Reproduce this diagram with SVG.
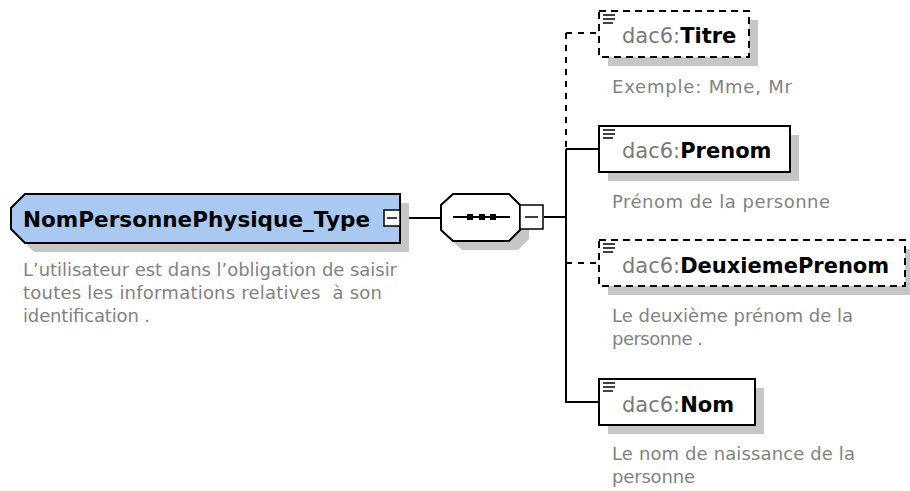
<svg xmlns="http://www.w3.org/2000/svg" width="910" height="491" viewBox="0 0 910 491">
  <defs>
    <style>
      .shadow { fill: #c6c6c6; stroke: none; }
      .frame { fill: #ffffff; stroke: #000000; stroke-width: 2; }
      .opt { fill: #ffffff; stroke: #000000; stroke-width: 2; stroke-dasharray: 7 5; }
      .ctype { fill: #a9c9f0; stroke: #000000; stroke-width: 2; }
      .btn { fill: #ffffff; stroke: #000000; stroke-width: 1.5; }
      .ln { stroke: #000000; stroke-width: 2; fill: none; }
      .dash { stroke: #000000; stroke-width: 2; fill: none; stroke-dasharray: 6 6; }
      .icon { stroke: #000000; stroke-width: 1.5; }
      .name { font-family: "DejaVu Sans", Verdana, sans-serif; font-size: 21px; }
      .pfx { fill: #7a7a7a; }
      .local { fill: #000000; font-weight: bold; }
      .title { font-family: "DejaVu Sans", Verdana, sans-serif; font-size: 21px; font-weight: bold; fill: #000000; }
      .doc { font-family: "DejaVu Sans", Verdana, sans-serif; font-size: 18px; fill: #828282; }
    </style>
  </defs>

  <!-- connectors -->
  <g id="connectors">
    <line class="ln" x1="400" y1="218" x2="441" y2="218"/>
    <line class="ln" x1="544" y1="217" x2="566" y2="217"/>
    <line class="dash" x1="566" y1="33" x2="566" y2="149"/>
    <line class="ln" x1="566" y1="149" x2="566" y2="403"/>
    <line class="dash" x1="566" y1="33" x2="599" y2="33"/>
    <line class="ln" x1="566" y1="149" x2="599" y2="149"/>
    <line class="dash" x1="566" y1="263" x2="599" y2="263"/>
    <line class="ln" x1="565" y1="402" x2="599" y2="402"/>
  </g>

  <!-- complex type -->
  <g id="NomPersonnePhysique_Type">
    <polygon class="shadow" points="34,203 409,203 409,252 34,252 20,238 20,217"/>
    <polygon class="ctype" points="25,194 400,194 400,243 25,243 11,229 11,208"/>
    <text class="title" x="23" y="227" textLength="347" lengthAdjust="spacingAndGlyphs">NomPersonnePhysique_Type</text>
    <rect class="btn" x="384" y="210" width="16" height="16"/>
    <line class="icon" x1="387" y1="218" x2="397" y2="218"/>
    <text class="doc" x="23" y="276" textLength="374">L’utilisateur est dans l’obligation de saisir</text>
    <text class="doc" x="23" y="299" textLength="359" xml:space="preserve">toutes les informations relatives  à son</text>
    <text class="doc" x="23" y="322" textLength="127">identification .</text>
  </g>

  <!-- sequence compositor -->
  <g id="sequence">
    <polygon class="shadow" points="462,203 518,203 529,214 529,239 518,250 462,250 450,239 450,214"/>
    <polygon class="frame" points="453,194 509,194 520,205 520,230 509,241 453,241 441,230 441,205"/>
    <line class="ln" x1="453" y1="217" x2="510" y2="217"/>
    <rect x="467" y="214" width="6" height="6" fill="#000"/>
    <rect x="479" y="214" width="6" height="6" fill="#000"/>
    <rect x="490" y="214" width="6" height="6" fill="#000"/>
    <rect class="btn" x="520" y="205" width="23" height="24"/>
    <line class="icon" x1="525" y1="217" x2="538" y2="217"/>
  </g>

  <!-- dac6:Titre (optional) -->
  <g id="Titre">
    <rect class="shadow" x="608" y="20" width="150" height="46"/>
    <rect class="opt" x="599" y="11" width="150" height="46"/>
    <line class="icon" x1="603" y1="15" x2="615" y2="15"/>
    <line class="icon" x1="603" y1="19" x2="615" y2="19"/>
    <line class="icon" x1="603" y1="23" x2="613" y2="23"/>
    <text class="name" x="622" y="43"><tspan class="pfx">dac6:</tspan><tspan class="local">Titre</tspan></text>
    <text class="doc" x="612" y="93" textLength="180">Exemple: Mme, Mr</text>
  </g>

  <!-- dac6:Prenom -->
  <g id="Prenom">
    <rect class="shadow" x="608" y="135" width="191" height="46"/>
    <rect class="frame" x="599" y="126" width="191" height="46"/>
    <line class="icon" x1="603" y1="130" x2="615" y2="130"/>
    <line class="icon" x1="603" y1="134" x2="615" y2="134"/>
    <line class="icon" x1="603" y1="138" x2="613" y2="138"/>
    <text class="name" x="622" y="158"><tspan class="pfx">dac6:</tspan><tspan class="local">Prenom</tspan></text>
    <text class="doc" x="612" y="208" textLength="218">Prénom de la personne</text>
  </g>

  <!-- dac6:DeuxiemePrenom (optional) -->
  <g id="DeuxiemePrenom">
    <rect class="shadow" x="608" y="249" width="306" height="46"/>
    <rect class="opt" x="599" y="240" width="306" height="46"/>
    <line class="icon" x1="603" y1="244" x2="615" y2="244"/>
    <line class="icon" x1="603" y1="248" x2="615" y2="248"/>
    <line class="icon" x1="603" y1="252" x2="613" y2="252"/>
    <text class="name" x="622" y="273"><tspan class="pfx">dac6:</tspan><tspan class="local">DeuxiemePrenom</tspan></text>
    <text class="doc" x="612" y="322" textLength="241">Le deuxième prénom de la</text>
    <text class="doc" x="612" y="345" textLength="91">personne .</text>
  </g>

  <!-- dac6:Nom -->
  <g id="Nom">
    <rect class="shadow" x="608" y="388" width="156" height="46"/>
    <rect class="frame" x="599" y="379" width="156" height="46"/>
    <line class="icon" x1="603" y1="383" x2="615" y2="383"/>
    <line class="icon" x1="603" y1="387" x2="615" y2="387"/>
    <line class="icon" x1="603" y1="391" x2="613" y2="391"/>
    <text class="name" x="622" y="412"><tspan class="pfx">dac6:</tspan><tspan class="local">Nom</tspan></text>
    <text class="doc" x="612" y="460" textLength="243">Le nom de naissance de la</text>
    <text class="doc" x="612" y="483" textLength="83">personne</text>
  </g>
</svg>
